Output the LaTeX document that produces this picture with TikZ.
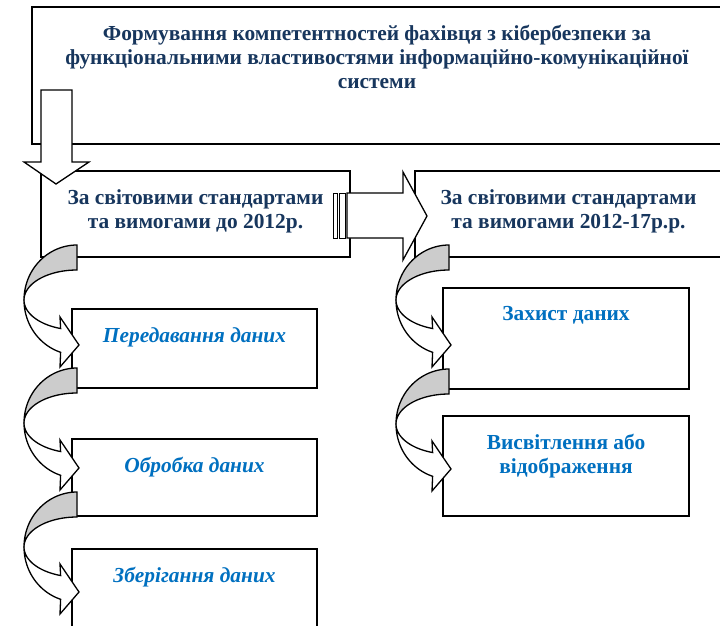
\documentclass[tikz,border=0pt]{standalone}
\usepackage{fontspec}
\setmainfont{Liberation Serif}
\definecolor{navy}{HTML}{17365D}
\definecolor{itemblue}{HTML}{0070C0}
\definecolor{ribbon}{HTML}{CCCCCC}

\begin{document}
\begin{tikzpicture}[x=1pt,y=-1pt,line width=1.3pt]
		\tikzstyle{box} = [draw,rectangle,inner sep=0pt,fill=white]
		\tikzstyle{headbf} = [align=center,inner sep=0pt,anchor=north,text=navy,font=\fontsize{21.4}{24}\selectfont\bfseries]
		\tikzstyle{itembf} = [align=center,inner sep=0pt,anchor=north,text=itemblue,font=\fontsize{21.4}{24}\selectfont\bfseries]
		\tikzstyle{itembfit} = [itembf,font=\fontsize{21.4}{24}\selectfont\bfseries\itshape]
		\useasboundingbox (0,0) rectangle (720,626);

		% boxes
		\node[box,minimum width=690pt,minimum height=137pt] (goal) at (377,75.5) {};
		\node[box,minimum width=309pt,minimum height=86pt] (before) at (195.5,214) {};
		\node[box,minimum width=307pt,minimum height=86pt] (after) at (568.5,214) {};
		\node[box,minimum width=245pt,minimum height=79pt] (transfer) at (194.5,348.5) {};
		\node[box,minimum width=245pt,minimum height=77pt] (process) at (194.5,477.5) {};
		\node[box,minimum width=245pt,minimum height=81pt] (storage) at (194.5,589.5) {};
		\node[box,minimum width=246pt,minimum height=101pt] (protect) at (566,338.5) {};
		\node[box,minimum width=246pt,minimum height=100pt] (display) at (566,466) {};

		% block arrows
		\draw[fill=white] (41,90) -- (72,90) -- (72,162) -- (89,162) -- (56,184) -- (24,162) -- (41,162) -- cycle;
		\draw[fill=white,line width=1pt] (333.5,193) rectangle (337.5,238);
		\draw[fill=white,line width=1pt] (339.5,193) rectangle (345.5,238);
		\draw[fill=white] (347,193) -- (403,193) -- (403,172) -- (427,216) -- (403,260) -- (403,238) -- (347,238) -- cycle;

		\foreach \px/\py in {77/245, 77/368, 77/492, 449/245, 449/369} {
			\begin{scope}[shift={(\px,\py)}]
				\draw[fill=ribbon] plot[domain=90:180,samples=30,variable=\t] ({53*cos(\t)},{55-55*sin(\t)})
					-- plot[domain=180:90,samples=30,variable=\t] ({53*cos(\t)},{55-30*sin(\t)}) -- cycle;
				\draw[fill=white] plot[domain=180:252,samples=30,variable=\t] ({53*cos(\t)},{55-55*sin(\t)})
					-- (-17,122) -- (2,100) -- (-17,72)
					-- plot[domain=252:180,samples=30,variable=\t] ({53*cos(\t)},{55-30*sin(\t)}) -- cycle;
			\end{scope}
		}

		% texts
		\node[headbf] (goaltext) at ([yshift=-18.5pt]goal.north) {Формування компетентностей фахівця з кібербезпеки за\\функціональними властивостями інформаційно-комунікаційної\\системи};
		\node[headbf] (beforetext) at ([yshift=-18.5pt]before.north) {За світовими стандартами\\та вимогами до 2012р.};
		\node[headbf] (aftertext) at ([yshift=-18.5pt]after.north) {За світовими стандартами\\та вимогами 2012-17р.р.};
		\node[itembfit] (transfertext) at ([yshift=-18.5pt]transfer.north) {Передавання даних};
		\node[itembfit] (processtext) at ([yshift=-18.5pt]process.north) {Обробка даних};
		\node[itembfit] (storagetext) at ([yshift=-18.5pt]storage.north) {Зберігання даних};
		\node[itembf] (protecttext) at ([yshift=-18.5pt]protect.north) {Захист даних};
		\node[itembf] (displaytext) at ([yshift=-18.5pt]display.north) {Висвітлення або\\відображення};
	\end{tikzpicture}
\end{document}
